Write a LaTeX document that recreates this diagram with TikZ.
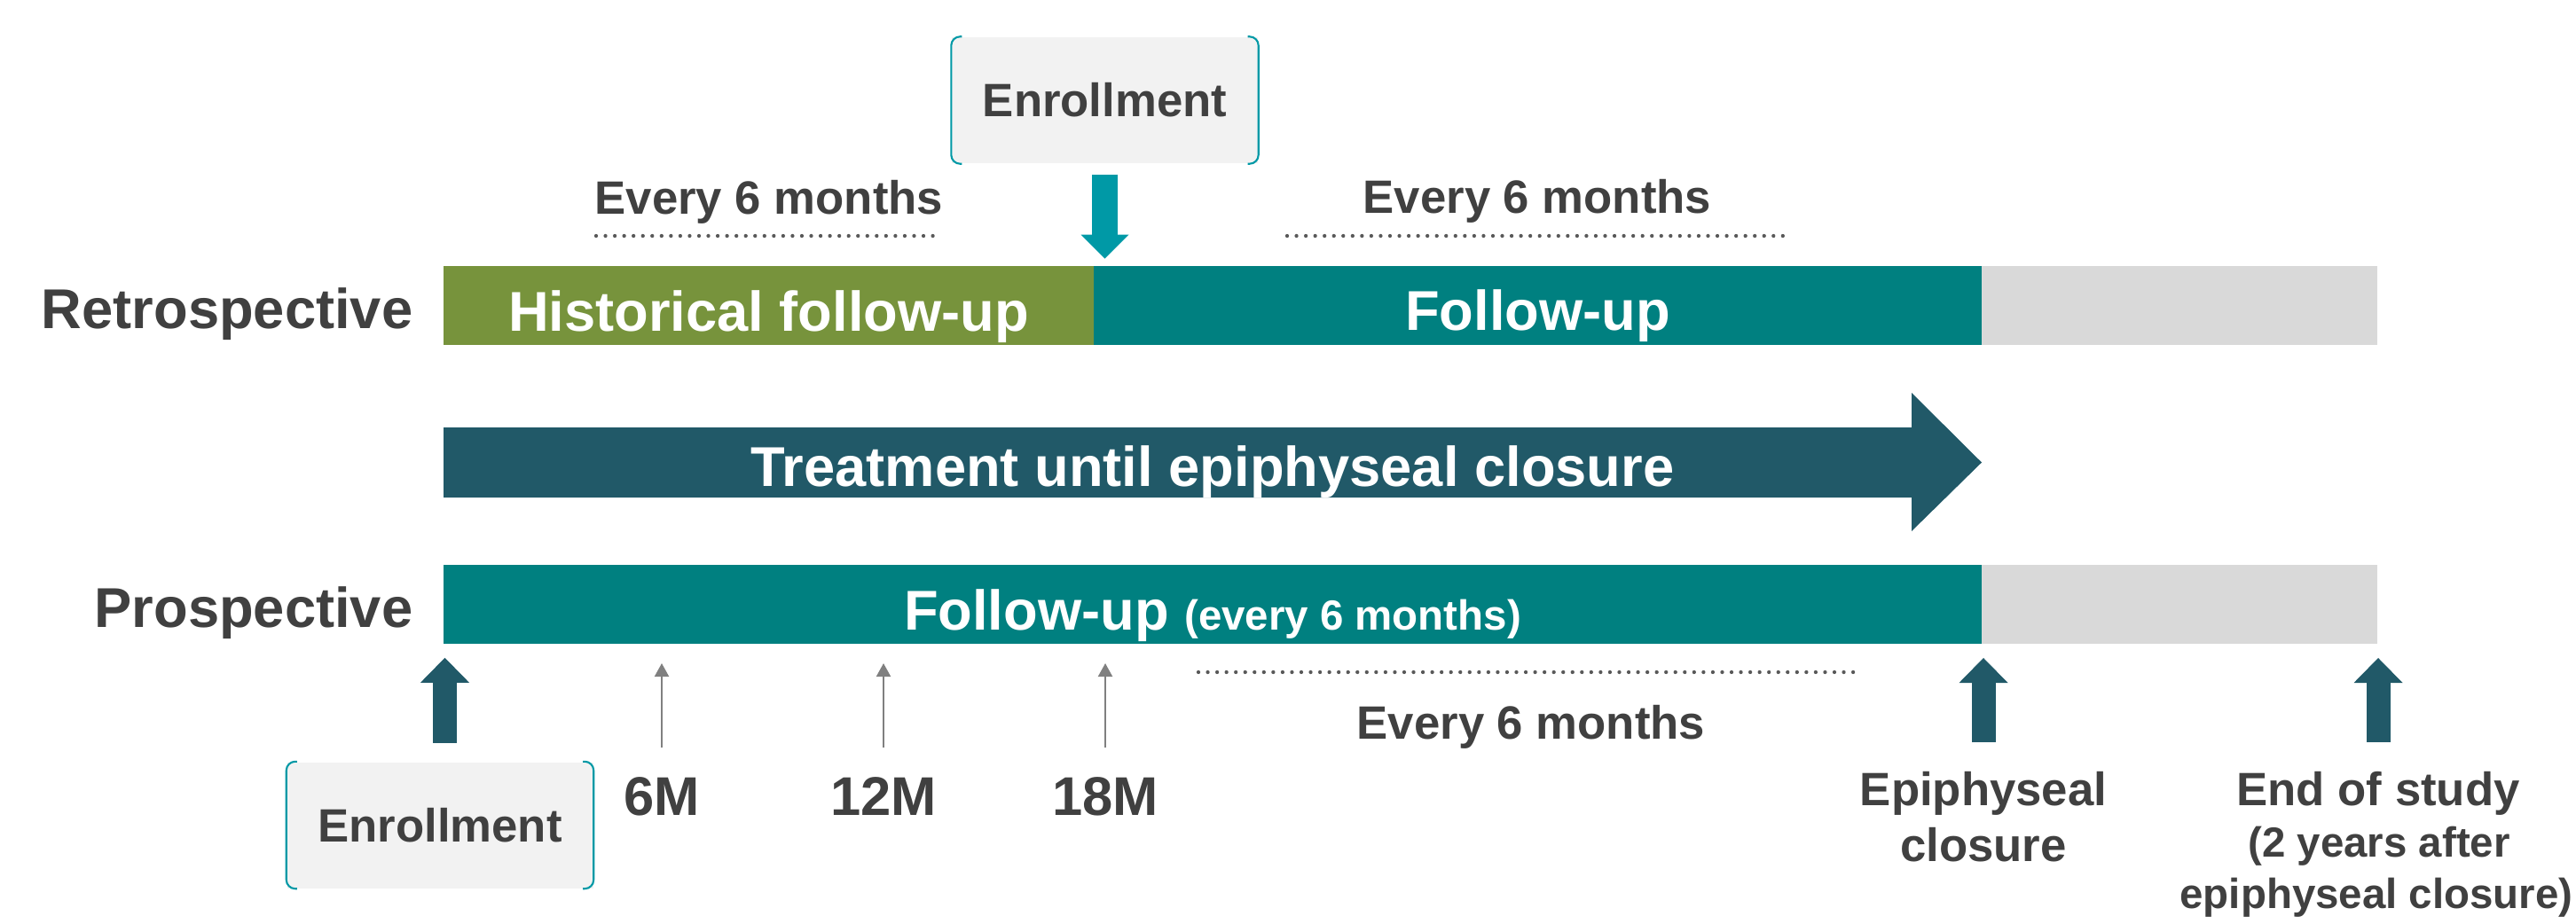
\documentclass[tikz,border=0pt]{standalone}
\usepackage{fontspec}
\setmainfont{Liberation Sans}
\usepackage{xcolor}
\usetikzlibrary{arrows.meta}

\definecolor{olivebar}{HTML}{77933C}
\definecolor{tealbar}{HTML}{008080}
\definecolor{slatebar}{HTML}{215968}
\definecolor{restbar}{HTML}{D9D9D9}
\definecolor{darktext}{HTML}{404040}
\definecolor{boxfill}{HTML}{F2F2F2}
\definecolor{enrblue}{HTML}{0099A6}
\definecolor{dotgray}{HTML}{595959}
\definecolor{tickgray}{HTML}{808080}

\tikzset{
  rowlabel/.style={font=\fontsize{18}{21.6}\selectfont\bfseries, text=darktext, inner sep=0pt, anchor=base},
  bartext/.style={font=\fontsize{18}{21.6}\selectfont\bfseries, text=white, inner sep=0pt, anchor=base},
  note/.style={font=\fontsize{15}{18}\selectfont\bfseries, text=darktext, inner sep=0pt, anchor=base},
  smallnote/.style={font=\fontsize{13.5}{16}\selectfont\bfseries, text=darktext, inner sep=0pt, anchor=base},
  monthlabel/.style={font=\fontsize{17.5}{21}\selectfont\bfseries, text=darktext, inner sep=0pt, anchor=base},
  enrbox/.style={fill=boxfill, minimum width=3.45cm, minimum height=1.42cm, inner sep=0pt,
    font=\fontsize{15}{18}\selectfont\bfseries, text=darktext},
  bracket/.style={draw=enrblue, line width=0.6pt, rounded corners=0.1cm},
  dotline/.style={dotgray, line width=1.22pt, line cap=round, dash pattern=on 0pt off 3pt},
  monthtick/.style={tickgray, line width=0.6pt, -{Triangle[length=0.15cm,width=0.16cm]}},
  enrarrow/.style={enrblue, line width=0.29cm, -{Triangle[length=0.27cm,width=0.54cm,line width=0pt]}},
  blockup/.style={slatebar, line width=0.27cm, -{Triangle[length=0.28cm,width=0.55cm,line width=0pt]}}
}

\begin{document}
\begin{tikzpicture}
\useasboundingbox (0,0) rectangle (29.04,10.41);

% Row labels
\node[rowlabel, anchor=base east] (retro) at (4.66,6.71) {Retrospective};
\node[rowlabel, anchor=base east] (prosp) at (4.66,3.34) {Prospective};

% Retrospective bar
\fill[olivebar] (5.00,6.52) rectangle (12.33,7.41);
\fill[tealbar] (12.33,6.52) rectangle (22.34,7.41);
\fill[restbar] (22.34,6.52) rectangle (26.80,7.41);
\node[bartext] (hist) at (8.665,6.68) {Historical follow-up};
\node[bartext] (retrofu) at (17.335,6.69) {Follow-up};

% Treatment arrow
\fill[slatebar] (5.00,4.80) -- (21.55,4.80) -- (21.55,4.42) -- (22.34,5.195)
  -- (21.55,5.98) -- (21.55,5.59) -- (5.00,5.59) -- cycle;
\node[bartext] (treat) at (13.67,4.93) {Treatment until epiphyseal closure};

% Prospective bar
\fill[tealbar] (5.00,3.15) rectangle (22.34,4.04);
\fill[restbar] (22.34,3.15) rectangle (26.80,4.04);
\node[bartext] (prospfu) at (13.67,3.31) {Follow-up {\fontsize{13.5}{16}\selectfont(every 6 months)}};

% Enrollment boxes with side brackets
\node[enrbox] (enrtop) at (12.455,9.28) {Enrollment};
\node[enrbox] (enrbot) at (4.96,1.105) {Enrollment};
\foreach \b in {enrtop,enrbot}{
  \draw[bracket] ([xshift=0.12cm]\b.north west) -- (\b.north west) -- (\b.south west) -- ([xshift=0.12cm]\b.south west);
  \draw[bracket] ([xshift=-0.12cm]\b.north east) -- (\b.north east) -- (\b.south east) -- ([xshift=-0.12cm]\b.south east);
}

% Enrollment into the retrospective follow-up
\draw[enrarrow] ([yshift=-0.12cm]enrtop.south) -- ++(0,-0.95);

% Visit intervals
\node[note] (every1) at (8.67,8.00) {Every 6 months};
\draw[dotline] (6.72,7.75) -- (10.57,7.75);
\node[note] (every2) at (17.33,8.01) {Every 6 months};
\draw[dotline] (14.51,7.75) -- (20.10,7.75);
\node[note] (every3) at (17.26,2.08) {Every 6 months};
\draw[dotline] (13.51,2.83) -- (20.95,2.83);

% Month ticks under the prospective bar
\foreach \x/\m in {7.46/6M, 9.96/12M, 12.46/18M}{
  \node[monthlabel] (m\m) at (\x,1.22) {\m};
  \draw[monthtick] ([yshift=0.32cm]m\m.north) -- (\x,2.93);
}

% Milestones
\node[note] (epi) at (22.36,1.33) {Epiphyseal};
\node[note] (epi2) at (22.36,0.70) {closure};
\node[note] (eos) at (26.81,1.33) {End of study};
\node[smallnote] (eos2) at (26.82,0.75) {(2 years after};
\node[smallnote] (eos3) at (26.79,0.17) {epiphyseal closure)};

\draw[blockup] ([xshift=0.055cm,yshift=0.21cm]enrbot.north) -- ++(0,0.96);
\draw[blockup] ([yshift=0.32cm]epi.north) -- (22.36,2.99);
\draw[blockup] ([yshift=0.32cm]eos.north) -- (26.81,2.99);
\end{tikzpicture}
\end{document}
